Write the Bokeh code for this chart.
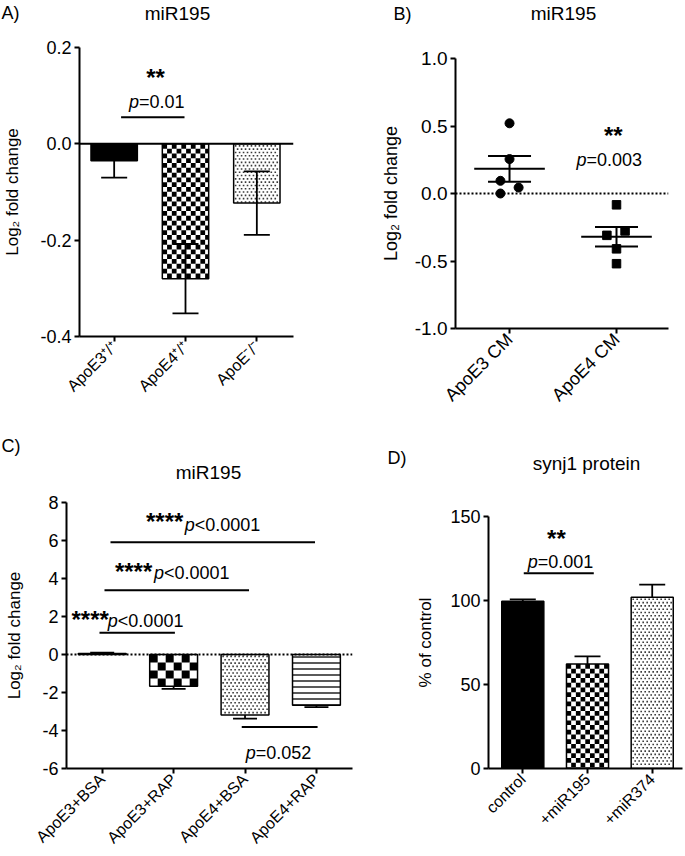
import math
import numpy as np
from bokeh.plotting import figure
from bokeh.models import (ColumnDataSource, FixedTicker, Span, Whisker, TeeHead, Range1d)
from bokeh.layouts import column, row
from bokeh.embed import file_html
from bokeh.resources import INLINE
from bokeh.core.properties import value

FONT = "Liberation Sans"

# ---------------- data ----------------
a_title = "miR195"
a_categories = ["ApoE3⁺/⁺", "ApoE4⁺/⁺", "ApoE⁻/⁻"]
a_values = [-0.035, -0.280, -0.123]
a_sem = [0.035, 0.072, 0.066]
a_yticks = [-0.4, -0.2, 0.0, 0.2]
a_yticklabels = ["-0.4", "-0.2", "0.0", "0.2"]

b_title = "miR195"
b_categories = ["ApoE3 CM", "ApoE4 CM"]
b_apoe3_cm = [0.52, 0.255, 0.094, 0.044, 0.0]
b_apoe4_cm = [-0.084, -0.310, -0.277, -0.410, -0.520]
b_apoe3_jitter = [0.0, 0.0, -0.085, 0.085, -0.085]
b_apoe4_jitter = [0.0, -0.09, 0.08, 0.0, 0.0]
b_yticks = [-1.0, -0.5, 0.0, 0.5, 1.0]
b_yticklabels = ["-1.0", "-0.5", "0.0", "0.5", "1.0"]

c_title = "miR195"
c_categories = ["ApoE3+BSA", "ApoE3+RAP", "ApoE4+BSA", "ApoE4+RAP"]
c_values = [0.05, -1.67, -3.19, -2.67]
c_sem_up = [0.05, 0.0, 0.0, 0.0]
c_sem_down = [0.0, 0.14, 0.18, 0.10]
c_yticks = [-6, -4, -2, 0, 2, 4, 6, 8]
c_yticklabels = ["-6", "-4", "-2", "0", "2", "4", "6", "8"]

d_title = "synj1 protein"
d_categories = ["control", "+miR195", "+miR374"]
d_values = [99.5, 62.2, 101.9]
d_sem_up = [1.2, 4.5, 7.6]
d_yticks = [0, 50, 100, 150]
d_yticklabels = ["0", "50", "100", "150"]


# ---------------- helpers ----------------
class Panel:
    def __init__(self, width, height, bl, br, bt, bb, xr, yr):
        self.sx = (width - bl - br) / (xr[1] - xr[0])
        self.sy = (height - bt - bb) / (yr[1] - yr[0])
        p = figure(width=width, height=height, x_range=Range1d(*xr), y_range=Range1d(*yr),
                   min_border_left=bl, min_border_right=br, min_border_top=bt,
                   min_border_bottom=bb, toolbar_location=None, output_backend="svg",
                   title=None)
        p.xgrid.visible = False
        p.ygrid.visible = False
        p.outline_line_color = None
        p.background_fill_color = "white"
        p.border_fill_color = "white"
        self.p = p


def header(width, y0, height, items):
    h = figure(width=width, height=height, x_range=Range1d(0, width),
               y_range=Range1d(y0 + height, y0), min_border=0, toolbar_location=None,
               output_backend="svg", title=None, x_axis_type=None, y_axis_type=None)
    h.xgrid.visible = False
    h.ygrid.visible = False
    h.outline_line_color = None
    h.background_fill_color = "white"
    h.border_fill_color = "white"
    for x, y, text, size, align in items:
        h.text(x=[x], y=[y], text=[text], text_align=align, text_baseline="middle",
               text_font=value(FONT), text_font_size=size, text_color="black")
    return h


def style_axes(p, xlabels, yticks, yticklabels, ylabel, tick_size, xtick_size,
               label_size, label_standoff):
    for ax in (p.xaxis[0], p.yaxis[0]):
        ax.axis_line_width = 2
        ax.axis_line_color = "black"
        ax.major_tick_line_width = 2
        ax.major_tick_line_color = "black"
        ax.major_tick_out = 5
        ax.major_tick_in = 0
        ax.minor_tick_line_color = None
        ax.major_label_text_font = FONT
        ax.major_label_text_color = "black"
        ax.major_label_standoff = 3
    xa = p.xaxis[0]
    ya = p.yaxis[0]
    xa.ticker = FixedTicker(ticks=list(range(1, len(xlabels) + 1)))
    xa.major_label_overrides = {i + 1: lab for i, lab in enumerate(xlabels)}
    xa.major_label_orientation = math.pi / 4
    xa.major_label_text_font_size = xtick_size
    ya.ticker = FixedTicker(ticks=list(yticks))
    ya.major_label_overrides = {float(t): lab for t, lab in zip(yticks, yticklabels)}
    ya.major_label_text_font_size = tick_size
    ya.axis_label = ylabel
    ya.axis_label_text_font = FONT
    ya.axis_label_text_font_style = "normal"
    ya.axis_label_text_color = "black"
    ya.axis_label_text_font_size = label_size
    ya.axis_label_standoff = label_standoff


def checker(P, xc, w, v, cell):
    cx, cy = cell / P.sx, cell / P.sy
    x0, x1 = xc - w / 2, xc + w / 2
    ytop, ybot = max(v, 0), min(v, 0)
    ncol = int(math.ceil((x1 - x0) / cx - 1e-9))
    nrow = int(math.ceil((ytop - ybot) / cy - 1e-9))
    L, R, T, B = [], [], [], []
    for r in range(nrow):
        for c in range(ncol):
            if (r + c) % 2 == 0:
                L.append(x0 + c * cx)
                R.append(min(x0 + (c + 1) * cx, x1))
                T.append(ytop - r * cy)
                B.append(max(ytop - (r + 1) * cy, ybot))
    P.p.quad(left=L, right=R, top=T, bottom=B, fill_color="black", line_color=None)


def dots(P, xc, w, v, dx=4.0, dy=3.3, size=1.6):
    x0, x1 = xc - w / 2, xc + w / 2
    ytop, ybot = max(v, 0), min(v, 0)
    wpx = (x1 - x0) * P.sx
    hpx = (ytop - ybot) * P.sy
    xs, ys = [], []
    r = 0
    ypx = 2.0
    while ypx < hpx - 1.0:
        xpx = 2.0 + (dx / 2 if r % 2 else 0.0)
        while xpx < wpx - 1.0:
            xs.append(x0 + xpx / P.sx)
            ys.append(ytop - ypx / P.sy)
            xpx += dx
        ypx += dy
        r += 1
    P.p.scatter(x=xs, y=ys, marker="square", size=size, fill_color="#3a3a3a",
                line_color=None)


def bars(P, values, width, kinds, check_cell=5):
    p = P.p
    xs = list(range(1, len(values) + 1))
    fills = ["black" if k == "solid" else "white" for k in kinds]
    hatches = ["horizontal_line" if k == "hlines" else "blank" for k in kinds]
    src = ColumnDataSource(dict(x=xs, top=values, fill=fills, hatch=hatches))
    p.vbar(x="x", top="top", bottom=0, width=width, source=src, fill_color="fill",
           line_color=None, hatch_pattern="hatch", hatch_scale=6, hatch_color="#222222",
           hatch_weight=1.5)
    for x, v, k in zip(xs, values, kinds):
        if k == "checker":
            checker(P, x, width, v, check_cell)
        elif k == "dots":
            dots(P, x, width, v)
    p.vbar(x=xs, top=values, bottom=0, width=width, fill_color=None, line_color="black",
           line_width=1.5)


def whiskers(p, values, up, down, head, lw=1.8):
    xs = list(range(1, len(values) + 1))
    iu = [i for i, u in enumerate(up) if u > 0]
    idn = [i for i, d in enumerate(down) if d > 0]
    if iu:
        src = ColumnDataSource(dict(base=[xs[i] for i in iu],
                                    lower=[values[i] for i in iu],
                                    upper=[values[i] + up[i] for i in iu]))
        p.add_layout(Whisker(source=src, base="base", lower="lower", upper="upper",
                             dimension="height", line_width=lw, line_color="black",
                             lower_head=None,
                             upper_head=TeeHead(size=head, line_width=lw, line_color="black"),
                             level="annotation"))
    if idn:
        src = ColumnDataSource(dict(base=[xs[i] for i in idn],
                                    lower=[values[i] - down[i] for i in idn],
                                    upper=[values[i] for i in idn]))
        p.add_layout(Whisker(source=src, base="base", lower="lower", upper="upper",
                             dimension="height", line_width=lw, line_color="black",
                             upper_head=None,
                             lower_head=TeeHead(size=head, line_width=lw, line_color="black"),
                             level="annotation"))


def stars(p, x, y, text, align="center", off=0):
    p.text(x=[x], y=[y], text=[text], text_align=align, text_baseline="middle",
           x_offset=off, text_font=value(FONT), text_font_style="bold",
           text_font_size="24px", text_color="black")


def ptext(p, x, y, rest, size="18px"):
    p.text(x=[x], y=[y], text=["p"], text_align="right", text_baseline="alphabetic",
           text_font=value(FONT), text_font_style="italic", text_font_size=size,
           text_color="black")
    p.text(x=[x], y=[y], text=[rest], text_align="left", text_baseline="alphabetic",
           text_font=value(FONT), text_font_style="normal", text_font_size=size,
           text_color="black")


def bracket(p, x0, x1, y):
    p.segment(x0=[x0], y0=[y], x1=[x1], y1=[y], line_width=2, line_color="black")


# ---------------- headers (panel letters + titles) ----------------
head_top = header(685, 0, 30, [
    (1, 12, "A)", "18px", "left"), (177, 13, a_title, "19px", "center"),
    (393, 13, "B)", "18px", "left"), (563, 13, b_title, "19px", "center")])
head_bot = header(685, 430, 55, [
    (1, 445, "C)", "18px", "left"), (208, 472, c_title, "19px", "center"),
    (387, 457, "D)", "18px", "left"), (586, 463, d_title, "19px", "center")])

# ---------------- panel A ----------------
A = Panel(340, 400, 77, 47, 17, 94, (0.514, 3.514), (-0.4, 0.2))
pA = A.p
style_axes(pA, a_categories, a_yticks, a_yticklabels, "Log₂ fold change",
           "18px", "16px", "17px", 15)
bars(A, a_values, 0.65, ["solid", "checker", "dots"], 4.8)
pA.add_layout(Span(location=0, dimension="width", line_color="black", line_width=2))
whiskers(pA, a_values, a_sem, a_sem, 26)
bracket(pA, 1.097, 1.986, 0.055)
stars(pA, 1.58, 0.137, "**")
ptext(pA, 1.347, 0.086, "=0.01")

# ---------------- panel B ----------------
B = Panel(345, 400, 115, 17, 28, 102, (0.495, 2.486), (-1.0, 1.0))
pB = B.p
style_axes(pB, b_categories, b_yticks, b_yticklabels, "Log₂ fold change",
           "19px", "18px", "18px", 11)
pB.add_layout(Span(location=0, dimension="width", line_color="black", line_width=2,
                   line_dash="2 2"))
groups = [b_apoe3_cm, b_apoe4_cm]
jitters = [b_apoe3_jitter, b_apoe4_jitter]
markers = ["circle", "square"]
msizes = [9, 8.5]
means, sems = [], []
for gi, (vals, jit) in enumerate(zip(groups, jitters)):
    arr = np.array(vals)
    means.append(float(arr.mean()))
    sems.append(float(arr.std(ddof=1) / math.sqrt(len(arr))))
    pB.scatter(x=[gi + 1 + j for j in jit], y=vals, marker=markers[gi], size=msizes[gi],
               fill_color="black", line_color="black")
bx = [1, 2]
pB.segment(x0=[x - 0.33 for x in bx], x1=[x + 0.33 for x in bx], y0=means, y1=means,
           line_width=2, line_color="black")
srcB = ColumnDataSource(dict(base=bx, lower=[m - s for m, s in zip(means, sems)],
                             upper=[m + s for m, s in zip(means, sems)]))
pB.add_layout(Whisker(source=srcB, base="base", lower="lower", upper="upper",
                      dimension="height", line_width=2, line_color="black",
                      upper_head=TeeHead(size=43, line_width=2, line_color="black"),
                      lower_head=TeeHead(size=43, line_width=2, line_color="black"),
                      level="annotation"))
stars(pB, 1.97, 0.427, "**")
ptext(pB, 1.72, 0.247, "=0.003")

# ---------------- panel C ----------------
C = Panel(375, 371, 66, 23, 17, 88, (0.5, 4.505), (-6, 8))
pC = C.p
style_axes(pC, c_categories, c_yticks, c_yticklabels, "Log₂ fold change",
           "18px", "16px", "17px", 15)
bars(C, c_values, 0.67, ["solid", "checker", "dots", "hlines"], 8)
pC.add_layout(Span(location=0, dimension="width", line_color="black", line_width=2,
                   line_dash="2 2"))
whiskers(pC, c_values, c_sem_up, c_sem_down, 24)
bracket(pC, 0.962, 2.018, 1.14)
bracket(pC, 1.032, 3.056, 3.38)
bracket(pC, 1.116, 3.98, 5.91)
bracket(pC, 2.954, 4.016, -3.81)
stars(pC, 1.219, 1.84, "****", "right", -9)
ptext(pC, 1.219, 1.75, "<0.0001")
stars(pC, 1.864, 4.38, "****", "right", -11.6)
ptext(pC, 1.864, 4.29, "<0.0001")
stars(pC, 2.295, 6.99, "****", "right", -11.3)
ptext(pC, 2.295, 6.84, "<0.0001")
ptext(pC, 3.15, -5.18, "=0.052")

# ---------------- panel D ----------------
D = Panel(310, 371, 113, 3, 31, 88, (0.470, 3.468), (0, 150))
pD = D.p
style_axes(pD, d_categories, d_yticks, d_yticklabels, "% of control",
           "18px", "16px", "17px", 12)
bars(D, d_values, 0.65, ["solid", "checker", "dots"], 4.7)
whiskers(pD, d_values, d_sem_up, [0, 0, 0], 26)
bracket(pD, 1.015, 2.097, 116.2)
stars(pD, 1.52, 136.9, "**")
ptext(pD, 1.232, 123.2, "=0.001")

layout = column(head_top, row(column(pA), column(pB)),
                head_bot, row(column(pC), column(pD)))
open("out.html", "w").write(file_html(layout, INLINE))
